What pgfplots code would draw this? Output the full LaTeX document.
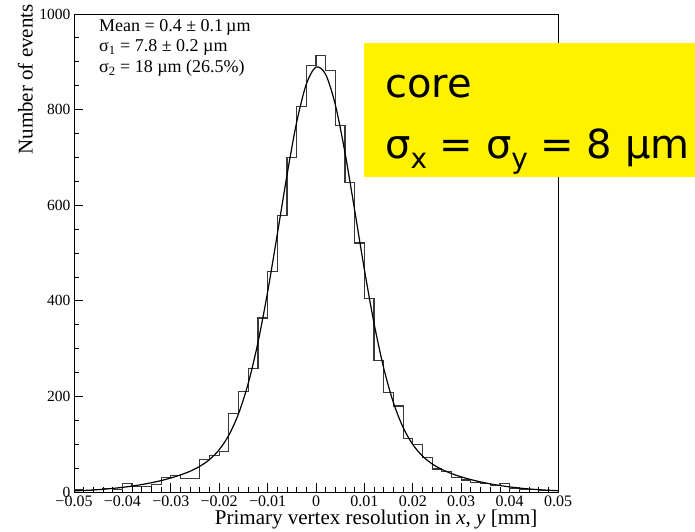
\documentclass[border=0pt]{standalone}
\usepackage{pgfplots}
\pgfplotsset{compat=1.18}
\usepackage{fontspec}
\setmainfont{Liberation Serif}
\newfontfamily\boxfont{DejaVu Sans}
\begin{document}
\begin{tikzpicture}
\path[use as bounding box] (-74pt,-39pt) rectangle (621pt,492pt);
\begin{axis}[
  scale only axis, width=484pt, height=478pt,
  at={(0pt,0pt)}, anchor=south west,
  xmin=-0.05, xmax=0.05, ymin=0, ymax=1000,
  scaled x ticks=false, scaled y ticks=false,
  axis line style={line width=0.8pt, black},
  xtick={-0.05,-0.04,-0.03,-0.02,-0.01,0,0.01,0.02,0.03,0.04,0.05},
  xticklabels={−0.05,−0.04,−0.03,−0.02,−0.01,0,0.01,0.02,0.03,0.04,0.05},
  minor x tick num=4,
  ytick={0,200,400,600,800,1000},
  yticklabels={0,200,400,600,800,1000},
  minor y tick num=3,
  tick align=inside, xtick pos=bottom, ytick pos=left,
  major tick length=9pt, minor tick length=5pt,
  tick style={black, line width=0.8pt},
  xticklabel style={font=\fontsize{16}{16}\selectfont},
  yticklabel style={font=\fontsize{15.5}{15.5}\selectfont},
  xlabel={Primary vertex resolution in \textit{x}, \textit{y} [mm]},
  ylabel={Number of events},
  xlabel style={font=\fontsize{21}{21}\selectfont, inner sep=0pt, at={(axis description cs:0.958,-0.0377)}, anchor=north east},
  ylabel style={font=\fontsize{21}{21}\selectfont, inner sep=0pt, at={(axis description cs:-0.0847,1.021)}, anchor=south east},
  clip=true,
]
\addplot[const plot, mark=none, line width=1.2pt, black!78] coordinates {
(-0.050,4) (-0.048,3) (-0.046,5) (-0.044,7) (-0.042,6)
(-0.040,18) (-0.038,12) (-0.036,12) (-0.034,15) (-0.032,31)
(-0.030,34) (-0.028,29) (-0.026,29) (-0.024,68) (-0.022,76)
(-0.020,85) (-0.018,164) (-0.016,211) (-0.014,258) (-0.012,364)
(-0.010,461) (-0.008,578) (-0.006,699) (-0.004,806) (-0.002,893)
(0.000,913) (0.002,881) (0.004,767) (0.006,647) (0.008,521)
(0.010,404) (0.012,275) (0.014,208) (0.016,180) (0.018,112)
(0.020,100) (0.022,72) (0.024,48) (0.026,43) (0.028,31)
(0.030,25) (0.032,20) (0.034,17) (0.036,13) (0.038,18)
(0.040,8) (0.042,6) (0.044,5) (0.046,3) (0.048,3) (0.050,3)
};
\addplot[smooth, mark=none, line width=1.2pt, black] coordinates {
(-0.050,2.4) (-0.048,3.2) (-0.046,4.3) (-0.044,5.7) (-0.042,7.5)
(-0.040,9.7) (-0.038,12.4) (-0.036,15.6) (-0.034,19.4) (-0.032,23.9)
(-0.030,29.3) (-0.028,35.7) (-0.026,43.5) (-0.024,53.8) (-0.022,67.9)
(-0.020,88.5) (-0.018,119.0) (-0.016,163.9) (-0.014,227.4) (-0.012,312.4)
(-0.010,418.2) (-0.008,538.9) (-0.006,662.6) (-0.004,773.3) (-0.002,853.3)
(0.000,889.0) (0.002,873.5) (0.004,809.8) (0.006,709.4) (0.008,588.8)
(0.010,465.3) (0.012,352.5) (0.014,258.8) (0.016,186.8) (0.018,135.0)
(0.020,99.3) (0.022,75.2) (0.024,58.8) (0.026,47.3) (0.028,38.6)
(0.030,31.7) (0.032,26.0) (0.034,21.1) (0.036,17.0) (0.038,13.6)
(0.040,10.7) (0.042,8.3) (0.044,6.4) (0.046,4.9) (0.048,3.7) (0.050,2.7)
};
\end{axis}
\node[anchor=base west, inner sep=0pt, font=\fontsize{18}{18}\selectfont] at (25pt,460pt) {Mean = 0.4 ± 0.1\,µm};
\node[anchor=base west, inner sep=0pt, font=\fontsize{18}{18}\selectfont] at (25pt,440pt) {σ\textsubscript{1} = 7.8 ± 0.2 µm};
\node[anchor=base west, inner sep=0pt, font=\fontsize{18}{18}\selectfont] at (25pt,419pt) {σ\textsubscript{2} = 18 µm (26.5\%)};
\fill[yellow] (290pt,315pt) rectangle (621pt,449pt);
\node[anchor=base west, inner sep=0pt, font=\boxfont\fontsize{40}{40}\selectfont] at (311pt,394pt) {core};
\node[anchor=base west, inner sep=0pt, font=\boxfont\fontsize{40}{40}\selectfont] at (311pt,334pt) {σ\raisebox{-0.25em}{\fontsize{28}{28}\selectfont x} = σ\raisebox{-0.25em}{\fontsize{28}{28}\selectfont y} = 8 µm};
\end{tikzpicture}
\end{document}
